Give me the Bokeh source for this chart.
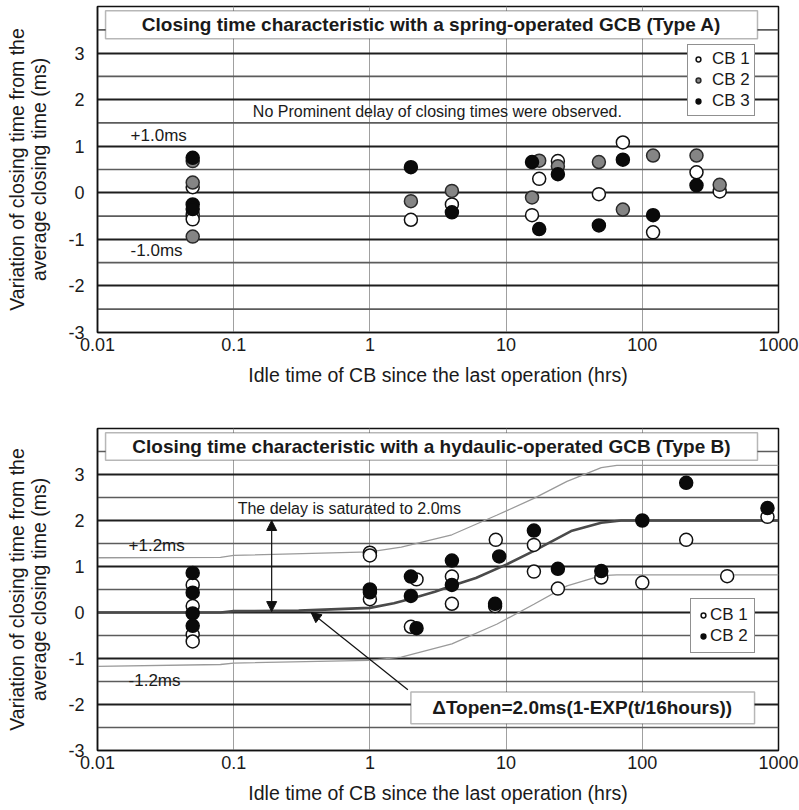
from bokeh.plotting import figure
from bokeh.layouts import column
from bokeh.models import (FixedTicker, CustomJSTickFormatter, Label, BoxAnnotation,
                          Arrow, NormalHead, Legend, LegendItem, Range1d)
from bokeh.embed import file_html
from bokeh.resources import INLINE

FONT = "Liberation Sans"

x_ticks = [0.01, 0.1, 1, 10, 100, 1000]
y_ticks = [-3, -2, -1, 0, 1, 2, 3]
y_major_grid = [-3, -2, -1, 0, 1, 2, 3, 4]
y_minor_grid = [-2.5, -1.5, -0.5, 0.5, 1.5, 2.5, 3.5]

# ---------------- Type A (spring-operated) ----------------
a_cb1_x = [0.05, 0.05, 0.05, 2, 4, 15.5, 17.5, 24, 48, 72, 120, 250, 370]
a_cb1_y = [0.12, -0.47, -0.57, -0.58, -0.25, -0.48, 0.30, 0.68, -0.03, 1.08, -0.85, 0.44, 0.03]
a_cb2_x = [0.05, 0.05, 0.05, 2, 4, 15.5, 17.5, 24, 48, 72, 120, 250, 370]
a_cb2_y = [0.68, 0.22, -0.94, -0.18, 0.04, -0.10, 0.69, 0.57, 0.66, -0.36, 0.80, 0.80, 0.17]
a_cb3_x = [0.05, 0.05, 0.05, 2, 4, 15.5, 17.5, 24, 48, 72, 120, 250]
a_cb3_y = [0.75, -0.25, -0.35, 0.55, -0.42, 0.66, -0.78, 0.40, -0.70, 0.71, -0.48, 0.16]

# ---------------- Type B (hydraulic-operated) ----------------
b_cb1_x = [0.05, 0.05, 0.05, 0.05, 1, 1, 1, 2.2, 2, 4, 4, 8.4, 8.3, 16, 16, 24, 50, 100, 210, 420, 830]
b_cb1_y = [0.60, 0.14, -0.48, -0.63, 1.30, 1.24, 0.29, 0.72, -0.31, 0.78, 0.19, 1.58, 0.14, 1.47, 0.89, 0.52, 0.76, 0.65, 1.58, 0.79, 2.08]
b_cb2_x = [0.05, 0.05, 0.05, 0.05, 1, 1, 2, 2, 2.2, 4, 4, 8.9, 8.3, 16, 24, 50, 100, 210, 830]
b_cb2_y = [0.86, 0.43, -0.02, -0.29, 0.50, 0.44, 0.78, 0.36, -0.34, 1.13, 0.60, 1.22, 0.19, 1.78, 0.95, 0.90, 2.00, 2.82, 2.27]

# fitted delay curve and +-1.2ms band
center_x = [0.01, 0.08, 0.1, 0.3, 1, 1.5, 2, 3, 4, 6, 10, 16, 30, 50, 70, 1000]
center_y = [0.0, 0.0, 0.03, 0.04, 0.10, 0.20, 0.30, 0.45, 0.58, 0.75, 1.04, 1.34, 1.77, 1.95, 2.0, 2.0]
band_x = [0.01, 0.08, 0.1, 1, 1.7, 4, 8.6, 16, 28, 50, 65, 1000]
upper_y = [1.19, 1.20, 1.24, 1.32, 1.42, 1.69, 2.12, 2.48, 2.85, 3.15, 3.20, 3.20]
lower_y = [-1.17, -1.13, -1.10, -1.04, -0.97, -0.68, -0.25, 0.18, 0.58, 0.80, 0.82, 0.82]

TXT = "#1a1a1a"


def make_fig(height, top_b, bottom_b):
    p = figure(width=799, height=height, x_axis_type="log",
               x_range=Range1d(0.01, 1000), y_range=Range1d(-3, 4),
               output_backend="svg", toolbar_location=None,
               min_border_left=97, min_border_right=21,
               min_border_top=top_b, min_border_bottom=bottom_b)
    p.background_fill_color = "white"
    p.border_fill_color = "white"
    p.outline_line_color = "#111111"
    p.outline_line_width = 1.5
    # grid
    p.xgrid.ticker = FixedTicker(ticks=x_ticks)
    p.xgrid.grid_line_color = "#a0a0a0"
    p.xgrid.grid_line_width = 1
    p.ygrid.ticker = FixedTicker(ticks=y_major_grid)
    p.ygrid.grid_line_color = "#1e1e1e"
    p.ygrid.grid_line_width = 2.2
    # half-unit grid lines drawn as plain line glyphs across the x range
    for v in y_minor_grid:
        p.line([x_ticks[0], x_ticks[-1]], [v, v], line_color="#5c5c5c", line_width=1.7)
    # axes
    p.xaxis.ticker = FixedTicker(ticks=x_ticks)
    p.xaxis.formatter = CustomJSTickFormatter(code="return String(tick);")
    p.yaxis.ticker = FixedTicker(ticks=y_ticks)
    p.yaxis.formatter = CustomJSTickFormatter(code="return String(tick);")
    for ax in (p.xaxis[0], p.yaxis[0]):
        ax.major_tick_in = 0
        ax.major_tick_out = 0
        ax.minor_tick_in = 0
        ax.minor_tick_out = 0
        ax.axis_line_color = "#111111"
        ax.axis_line_width = 1.5
        ax.major_label_text_font = FONT
        ax.major_label_text_font_size = "18px"
        ax.major_label_text_color = TXT
        ax.axis_label_text_font = FONT
        ax.axis_label_text_font_size = "19.5px"
        ax.axis_label_text_font_style = "normal"
        ax.axis_label_text_color = TXT
        ax.axis_label_text_line_height = 1.0
    p.xaxis.axis_label = "Idle time of CB since the last operation (hrs)"
    p.xaxis.major_label_standoff = 5
    p.xaxis.axis_label_standoff = 10
    p.yaxis.axis_label = "Variation of closing time from the\naverage closing time (ms)"
    p.yaxis.major_label_standoff = 13
    p.yaxis.axis_label_standoff = 15
    return p


def add_title_box(p, text, left, right, bottom, top, cx, cy):
    p.add_layout(BoxAnnotation(left=left, right=right, bottom=bottom, top=top,
                               fill_color="white", fill_alpha=1.0,
                               line_color="#111111", line_width=1.5))
    p.add_layout(Label(x=cx, y=cy, text=text, text_align="center", text_baseline="middle",
                       text_font=FONT, text_font_size="19px", text_font_style="bold",
                       text_color=TXT))


def add_text(p, x, y, text, size="16px", align="left"):
    p.add_layout(Label(x=x, y=y, text=text, text_align=align, text_baseline="middle",
                       text_font=FONT, text_font_size=size, text_color=TXT))


def style_legend(leg, loc, pad, standoff):
    leg.location = loc
    leg.border_line_color = "#222222"
    leg.border_line_width = 1.2
    leg.background_fill_color = "white"
    leg.background_fill_alpha = 1.0
    leg.label_text_font = FONT
    leg.label_text_font_size = "17px"
    leg.label_text_color = TXT
    leg.glyph_width = 12
    leg.glyph_height = 12
    leg.label_height = 18
    leg.spacing = 1
    leg.padding = pad
    leg.margin = 0
    leg.label_standoff = standoff


# ================= Figure A =================
pa = make_fig(388, 6, 53)
add_title_box(pa, "Closing time characteristic with a spring-operated GCB (Type A)",
              0.01146, 701, 3.31, 3.91, 2.83, 3.61)

MS = 13
ra1 = pa.scatter(a_cb1_x, a_cb1_y, size=MS, fill_color="white", line_color="#111111", line_width=1.5)
ra2 = pa.scatter(a_cb2_x, a_cb2_y, size=MS, fill_color="#858585", line_color="#2a2a2a", line_width=1.5)
ra3 = pa.scatter(a_cb3_x, a_cb3_y, size=MS, fill_color="#0a0a0a", line_color="#0a0a0a", line_width=1.5)

add_text(pa, 3.13, 1.75, "No Prominent delay of closing times were observed.", size="16px", align="center")
add_text(pa, 0.0175, 1.24, "+1.0ms", size="17px")
add_text(pa, 0.0175, -1.24, "-1.0ms", size="17px")

leg_a = Legend(items=[LegendItem(label="CB 1", renderers=[ra1]),
                      LegendItem(label="CB 2", renderers=[ra2]),
                      LegendItem(label="CB 3", renderers=[ra3])])
pa.add_layout(leg_a)
style_legend(leg_a, (590, 216), 4, 8)

# ================= Figure B =================
pb = make_fig(418, 40, 53)

pb.line(band_x, upper_y, line_color="#9a9a9a", line_width=1.3)
pb.line(band_x, lower_y, line_color="#9a9a9a", line_width=1.3)
pb.line(center_x, center_y, line_color="#4a4a4a", line_width=2.6)

add_title_box(pb, "Closing time characteristic with a hydaulic-operated GCB (Type B)",
              0.01146, 701, 3.31, 3.91, 2.83, 3.61)

rb1 = pb.scatter(b_cb1_x, b_cb1_y, size=MS, fill_color="white", line_color="#111111", line_width=1.5)
rb2 = pb.scatter(b_cb2_x, b_cb2_y, size=MS, fill_color="#0a0a0a", line_color="#0a0a0a", line_width=1.5)

add_text(pb, 0.107, 2.27, "The delay is saturated to 2.0ms", size="16px")
add_text(pb, 0.0169, 1.45, "+1.2ms", size="17px")
add_text(pb, 0.0169, -1.47, "-1.2ms", size="17px")

pb.add_layout(Arrow(start=NormalHead(size=10, fill_color="#111111", line_color="#111111"),
                    end=NormalHead(size=10, fill_color="#111111", line_color="#111111"),
                    x_start=0.19, y_start=2.0, x_end=0.19, y_end=0.02,
                    line_color="#111111", line_width=1.2))
pb.add_layout(Arrow(end=NormalHead(size=10, fill_color="#111111", line_color="#111111"),
                    x_start=1.9, y_start=-1.68, x_end=0.37, y_end=0.0,
                    line_color="#111111", line_width=1.2))

pb.add_layout(BoxAnnotation(left=2.0, right=667, bottom=-2.42, top=-1.73,
                            fill_color="white", fill_alpha=1.0,
                            line_color="#111111", line_width=1.5))
pb.add_layout(Label(x=36.2, y=-2.07, text="\u0394Topen=2.0ms(1-EXP(t/16hours))",
                    text_align="center", text_baseline="middle",
                    text_font=FONT, text_font_size="19px", text_font_style="bold",
                    text_color=TXT))

leg_b = Legend(items=[LegendItem(label="CB 1", renderers=[rb1]),
                      LegendItem(label="CB 2", renderers=[rb2])])
pb.add_layout(leg_b)
style_legend(leg_b, (593, 97), 6, 1)

layout = column(pa, pb, spacing=0)
open("out.html", "w").write(file_html(layout, INLINE))
